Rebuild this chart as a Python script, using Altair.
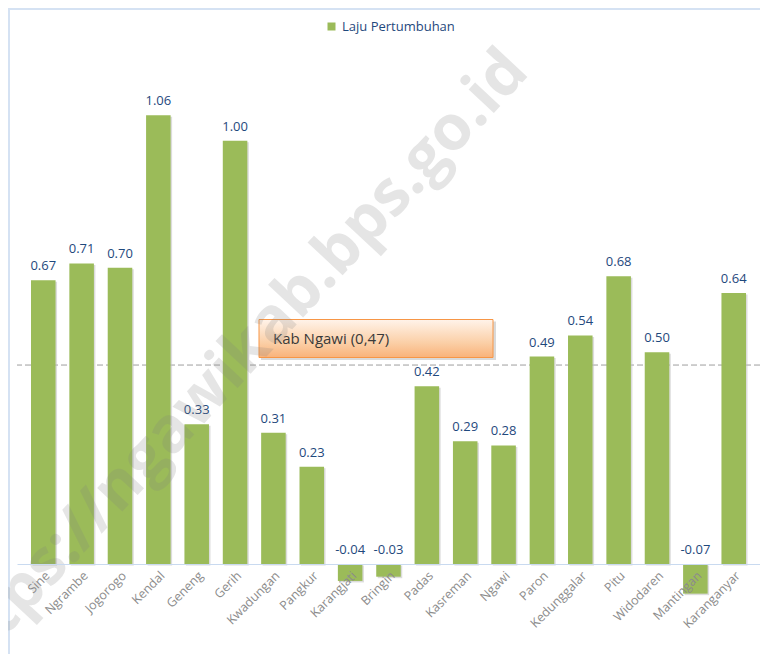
import altair as alt
import pandas as pd

# ---- data ----
kecamatan = ["Sine", "Ngrambe", "Jogorogo", "Kendal", "Geneng", "Gerih", "Kwadungan",
             "Pangkur", "Karangjati", "Bringin", "Padas", "Kasreman", "Ngawi", "Paron",
             "Kedunggalar", "Pitu", "Widodaren", "Mantingan", "Karanganyar"]
laju = [0.67, 0.71, 0.70, 1.06, 0.33, 1.00, 0.31, 0.23, -0.04, -0.03, 0.42, 0.29,
        0.28, 0.49, 0.54, 0.68, 0.50, -0.07, 0.64]
series_name = "Laju Pertumbuhan"
kab_value = 0.47
kab_label = "Kab Ngawi (0,47)"
watermark = "https://ngawikab.bps.go.id"

df = pd.DataFrame({"kec": kecamatan, "v": laju, "s": series_name})
df["vlabel"] = [f"{x:.2f}" for x in laju]

FONT = "Open Sans"
GREEN = "#9BBB59"
NAVY = "#1F497D"

xenc = alt.X("kec:N", sort=kecamatan, title=None,
             scale=alt.Scale(paddingInner=0.36, paddingOuter=0.365),
             axis=alt.Axis(labelAngle=-45, labelColor="#8C8C8C", labelFontSize=12.5,
                           labelFont=FONT, ticks=False, domainColor="#C9DAF0",
                           domainWidth=1, labelPadding=5, labelOverlap=False, zindex=1))
yscale = alt.Scale(domain=[0, 1.2], nice=False, zero=True)
yenc = alt.Y("v:Q", scale=yscale, axis=None)

base = alt.Chart(df)

shadow = base.mark_bar(color="#BFBFBF", opacity=0.55, xOffset=1.5, yOffset=1.5).encode(
    x=xenc, y=yenc)

bars = base.mark_bar().encode(
    x=xenc, y=yenc,
    color=alt.Color("s:N", scale=alt.Scale(range=[GREEN]),
                    legend=alt.Legend(title=None, orient="none", legendX=308, legendY=-36,
                                      symbolType="square", symbolSize=64,
                                      symbolStrokeWidth=0, labelColor=NAVY,
                                      labelFontSize=13, labelFont=FONT, padding=0,
                                      labelOffset=4)))

labels = base.transform_calculate(ly="max(datum.v, 0)").mark_text(
    baseline="bottom", dy=-7, fontSize=13, font=FONT, color=NAVY).encode(
    x=xenc, y=alt.Y("ly:Q", scale=yscale, axis=None), text="vlabel:N")

avg = alt.Chart(pd.DataFrame({"k": [kab_value]})).mark_rule(
    color="#9E9E9E", strokeDash=[6, 3], strokeWidth=1).encode(
    y=alt.Y("k:Q", scale=yscale, axis=None))

box_shadow = alt.Chart(pd.DataFrame({"t": [kab_label]})).mark_rect(
    color="#D0D0D0", opacity=0.8).encode(
    x=alt.value(244), x2=alt.value(479), y=alt.value(265.5), y2=alt.value(304))

box = alt.Chart(pd.DataFrame({"t": [kab_label]})).mark_rect(
    color=alt.Gradient(gradient="linear", x1=0, x2=0, y1=0, y2=1,
                       stops=[alt.GradientStop(color="#FFF3EA", offset=0),
                              alt.GradientStop(color="#FBD0A8", offset=0.6),
                              alt.GradientStop(color="#F9B27A", offset=1)]),
    stroke="#F79646", strokeWidth=1).encode(
    x=alt.value(242), x2=alt.value(476), y=alt.value(263.5), y2=alt.value(301.5))

box_text = alt.Chart(pd.DataFrame({"t": [kab_label]})).mark_text(
    align="left", baseline="middle", fontSize=15, font=FONT, color="#3A3A3A").encode(
    x=alt.value(256), y=alt.value(283), text="t:N")

frame_top = alt.Chart(pd.DataFrame({"a": [1]})).mark_rule(color="#D5E2F3", strokeWidth=2).encode(
    x=alt.value(-9), x2=alt.value(760), y=alt.value(-47))
frame_left = alt.Chart(pd.DataFrame({"a": [1]})).mark_rule(color="#D5E2F3", strokeWidth=2).encode(
    x=alt.value(-8), y=alt.value(-47), y2=alt.value(600))

wm = alt.Chart(pd.DataFrame({"t": [watermark]})).mark_text(
    align="center", baseline="middle", fontSize=63, font=FONT, fontWeight="bold",
    color="#808080", opacity=0.2, angle=313).encode(
    x=alt.value(213), y=alt.value(312), text="t:N")

chart = alt.layer(frame_top, frame_left, avg, shadow, bars, labels, box_shadow, box,
                  box_text, wm).properties(
    width=743, height=508,
    background="white",
    padding={"left": 9, "top": 48, "right": 0, "bottom": 90},
    autosize=alt.AutoSizeParams(type="none"),
).configure_view(stroke=None)

chart.save("out.html", embed_options={"renderer": "svg", "actions": False})
